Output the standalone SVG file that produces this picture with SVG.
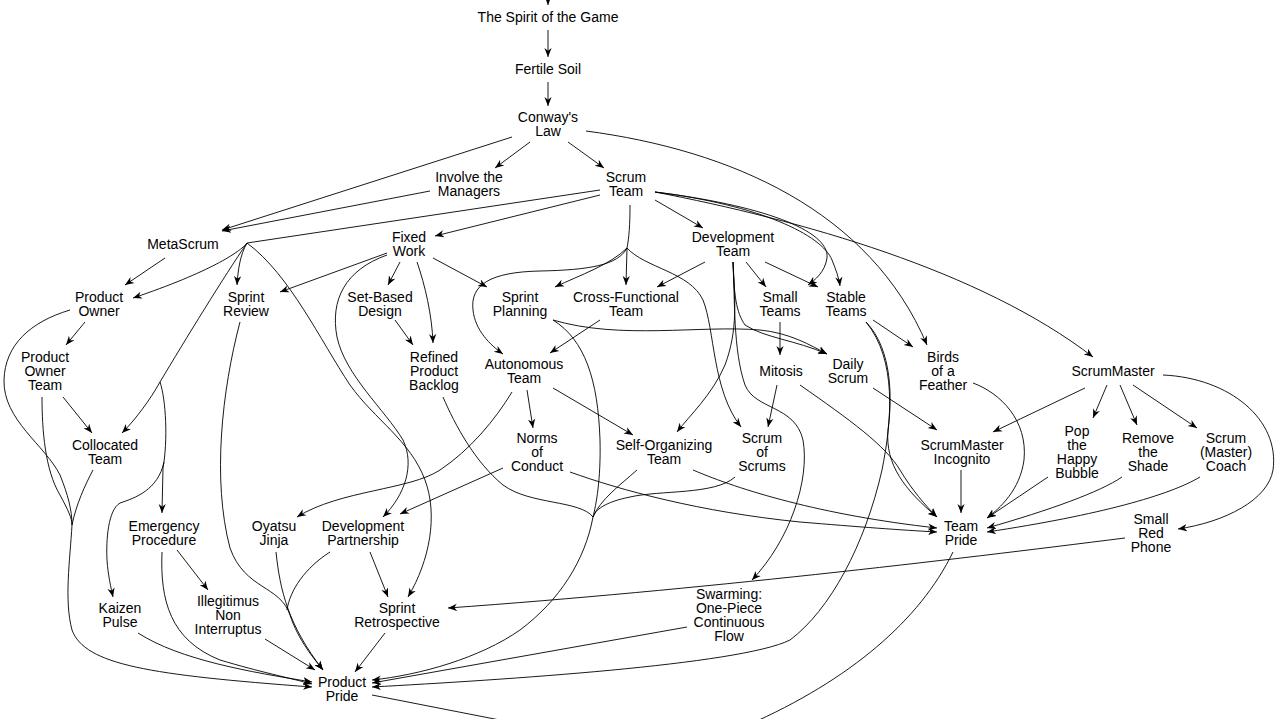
<svg xmlns="http://www.w3.org/2000/svg" width="1280" height="719" viewBox="0 0 1280 719">
<style>
text{font-family:"Liberation Sans",Arial,sans-serif;font-size:14px;fill:#000;text-anchor:middle}
#edges path{fill:none;stroke:#000;stroke-width:0.9}
#edges path.a{marker-end:url(#arr)}
</style>
<defs>
<marker id="arr" viewBox="0 0 10 10" refX="10" refY="5" markerWidth="9" markerHeight="9" markerUnits="userSpaceOnUse" orient="auto"><path d="M0,1 L10,5 L0,9 L3,5 z" fill="#000"/></marker>
</defs>
<rect width="1280" height="719" fill="#fff"/>
<g id="edges">
<path class="a" d="M548,-5 L548,5"/>
<path class="a" d="M548,30 L548,57"/>
<path class="a" d="M548,82 L548,106"/>
<path class="a" d="M530,142 L495,168"/>
<path class="a" d="M568,142 L604,168"/>
<path class="a" d="M512,137 L222,230"/>
<path class="a" d="M430,191 L222,231"/>
<path class="a" d="M586,131 C730,150 870,210 927,345"/>
<path class="a" d="M600,195 L435,236"/>
<path d="M600,190 L247,243"/>
<path class="a" d="M247,243 C240,252 210,272 133,298"/>
<path class="a" d="M247,243 C240,255 238,270 237,285"/>
<path class="a" d="M247,243 C225,275 185,340 160,382 C150,400 135,420 122,433"/>
<path class="a" d="M160,382 C166,400 168,440 163,468 L162,513"/>
<path class="a" d="M164,462 C158,490 135,498 120,503 C108,510 106,540 107,560 C108,575 111,588 113,597"/>
<path class="a" d="M247,243 C290,275 320,340 350,385 C375,420 410,440 425,480 C438,515 430,560 408,597"/>
<path class="a" d="M165,258 L125,285"/>
<path class="a" d="M655,200 L703,228"/>
<path class="a" d="M655,192 C800,220 980,270 1093,357"/>
<path class="a" d="M655,192 C760,205 830,230 827,258 C825,272 815,280 808,285"/>
<path class="a" d="M655,192 C760,205 822,235 832,260 C836,270 839,278 840,286"/>
<path d="M630,205 C630,225 629,238 627,248"/>
<path class="a" d="M627,248 C610,265 580,275 555,287"/>
<path class="a" d="M627,248 L626,285"/>
<path class="a" d="M627,248 C618,265 590,270 540,271 C490,272 470,285 473,310 C475,330 490,345 503,354"/>
<path class="a" d="M627,248 C645,268 690,272 703,300 C715,330 712,390 741,427"/>
<path class="a" d="M400,262 L388,285"/>
<path class="a" d="M417,262 C425,285 432,315 433,343"/>
<path class="a" d="M433,258 L487,287"/>
<path class="a" d="M387,253 L280,292"/>
<path class="a" d="M387,255 C345,270 330,300 337,337 C345,375 385,410 403,440 C415,465 405,495 383,517"/>
<path class="a" d="M395,320 L413,345"/>
<path d="M443,397 C455,425 475,462 503,485 C530,505 580,500 593,517"/>
<path d="M553,320 C585,340 598,380 600,440 C601,480 596,505 593,517"/>
<path d="M637,470 C620,485 600,500 593,517"/>
<path d="M735,477 C715,495 660,490 630,497 C605,502 595,510 593,517"/>
<path class="a" d="M593,517 C585,560 560,600 520,630 C480,658 420,675 372,680"/>
<path class="a" d="M687,627 L372,683"/>
<path class="a" d="M866,322 C897,360 892,420 882,470 C865,545 830,610 790,640 C740,665 500,680 372,687"/>
<path class="a" d="M866,322 C893,350 892,400 888,430 C885,465 905,490 937,517"/>
<path class="a" d="M800,385 C850,420 885,445 900,470 C912,490 925,505 937,517"/>
<path class="a" d="M705,262 L657,287"/>
<path class="a" d="M746,262 L766,287"/>
<path class="a" d="M765,262 L818,287"/>
<path class="a" d="M733,262 C735,300 733,350 745,385 C755,410 795,405 803,440 C810,480 790,540 752,580"/>
<path class="a" d="M733,262 C735,300 738,330 725,365 C712,395 690,415 677,432"/>
<path class="a" d="M733,262 C734,295 736,312 745,325 C765,338 795,340 827,354"/>
<path class="a" d="M553,320 C620,340 700,325 760,330 C790,333 810,345 827,354"/>
<path class="a" d="M600,320 L550,353"/>
<path class="a" d="M527,390 L533,428"/>
<path class="a" d="M553,388 L633,435"/>
<path class="a" d="M512,392 C495,420 470,450 440,470 C410,490 340,490 297,517"/>
<path class="a" d="M503,468 L400,514"/>
<path class="a" d="M570,472 C620,490 700,512 800,522 C860,527 900,530 937,532"/>
<path class="a" d="M693,470 C740,490 820,515 937,528"/>
<path class="a" d="M780,322 L780,355"/>
<path class="a" d="M777,385 L768,427"/>
<path class="a" d="M873,320 L913,347"/>
<path class="a" d="M873,388 L937,430"/>
<path class="a" d="M1085,388 L993,432"/>
<path class="a" d="M961,470 L961,513"/>
<path class="a" d="M973,383 C1000,393 1028,420 1024,460 C1020,490 1000,508 987,518"/>
<path class="a" d="M1107,385 L1093,418"/>
<path class="a" d="M1120,385 L1137,425"/>
<path class="a" d="M1133,385 L1197,428"/>
<path class="a" d="M1163,375 C1230,378 1280,420 1273,470 C1268,500 1225,522 1178,529"/>
<path class="a" d="M1048,477 L987,518"/>
<path class="a" d="M1122,477 C1100,492 1050,510 987,528"/>
<path class="a" d="M1200,477 C1170,495 1100,515 987,532"/>
<path class="a" d="M1125,538 C950,560 700,590 448,608"/>
<path d="M953,552 C920,620 850,680 748,725"/>
<path d="M372,695 L510,722"/>
<path class="a" d="M85,322 L66,345"/>
<path class="a" d="M63,397 L92,433"/>
<path d="M70,310 C30,322 5,345 4,380 C3,420 45,445 60,475 C68,495 72,510 72,525"/>
<path d="M42,397 C42,430 45,470 60,495 C68,510 72,518 72,525"/>
<path d="M93,470 C85,485 76,505 72,525"/>
<path class="a" d="M72,525 C70,560 64,600 72,630 C85,665 150,675 312,687"/>
<path class="a" d="M177,550 L208,590"/>
<path class="a" d="M162,552 C160,600 170,640 220,660 C260,672 290,678 312,684"/>
<path class="a" d="M138,633 C180,660 250,672 312,682"/>
<path class="a" d="M265,639 L315,670"/>
<path class="a" d="M276,552 C280,590 288,625 323,670"/>
<path d="M330,552 C305,568 290,590 287,610"/>
<path class="a" d="M240,322 C222,390 212,480 230,548 C245,590 280,585 290,615 C298,640 315,660 323,670"/>
<path class="a" d="M385,633 L355,672"/>
<path class="a" d="M370,552 L388,597"/>
</g>
<g id="spirit"><text x="548" y="22">The Spirit of the Game</text></g>
<g id="fertile"><text x="548" y="74">Fertile Soil</text></g>
<g id="conway"><text x="548" y="122">Conway's</text><text x="548" y="136">Law</text></g>
<g id="involve"><text x="469" y="182">Involve the</text><text x="469" y="196">Managers</text></g>
<g id="scrumteam"><text x="626" y="182">Scrum</text><text x="626" y="196">Team</text></g>
<g id="metascrum"><text x="183" y="249">MetaScrum</text></g>
<g id="fixedwork"><text x="409" y="242">Fixed</text><text x="409" y="256">Work</text></g>
<g id="devteam"><text x="733" y="242">Development</text><text x="733" y="256">Team</text></g>
<g id="productowner"><text x="99" y="302">Product</text><text x="99" y="316">Owner</text></g>
<g id="sprintreview"><text x="246" y="302">Sprint</text><text x="246" y="316">Review</text></g>
<g id="setbased"><text x="380" y="302">Set-Based</text><text x="380" y="316">Design</text></g>
<g id="sprintplanning"><text x="520" y="302">Sprint</text><text x="520" y="316">Planning</text></g>
<g id="crossfunctional"><text x="626" y="302">Cross-Functional</text><text x="626" y="316">Team</text></g>
<g id="smallteams"><text x="780" y="302">Small</text><text x="780" y="316">Teams</text></g>
<g id="stableteams"><text x="846" y="302">Stable</text><text x="846" y="316">Teams</text></g>
<g id="poteam"><text x="45" y="362">Product</text><text x="45" y="376">Owner</text><text x="45" y="390">Team</text></g>
<g id="refined"><text x="434" y="362">Refined</text><text x="434" y="376">Product</text><text x="434" y="390">Backlog</text></g>
<g id="autonomous"><text x="524" y="369">Autonomous</text><text x="524" y="383">Team</text></g>
<g id="mitosis"><text x="781" y="376">Mitosis</text></g>
<g id="dailyscrum"><text x="848" y="369">Daily</text><text x="848" y="383">Scrum</text></g>
<g id="birds"><text x="943" y="362">Birds</text><text x="943" y="376">of a</text><text x="943" y="390">Feather</text></g>
<g id="scrummaster"><text x="1113" y="376">ScrumMaster</text></g>
<g id="collocated"><text x="105" y="450">Collocated</text><text x="105" y="464">Team</text></g>
<g id="norms"><text x="537" y="443">Norms</text><text x="537" y="457">of</text><text x="537" y="471">Conduct</text></g>
<g id="selforg"><text x="664" y="450">Self-Organizing</text><text x="664" y="464">Team</text></g>
<g id="scrumofscrums"><text x="762" y="443">Scrum</text><text x="762" y="457">of</text><text x="762" y="471">Scrums</text></g>
<g id="smincognito"><text x="962" y="450">ScrumMaster</text><text x="962" y="464">Incognito</text></g>
<g id="pop"><text x="1077" y="436">Pop</text><text x="1077" y="450">the</text><text x="1077" y="464">Happy</text><text x="1077" y="478">Bubble</text></g>
<g id="removeshade"><text x="1148" y="443">Remove</text><text x="1148" y="457">the</text><text x="1148" y="471">Shade</text></g>
<g id="coach"><text x="1226" y="443">Scrum</text><text x="1226" y="457">(Master)</text><text x="1226" y="471">Coach</text></g>
<g id="emergency"><text x="164" y="531">Emergency</text><text x="164" y="545">Procedure</text></g>
<g id="oyatsu"><text x="274" y="531">Oyatsu</text><text x="274" y="545">Jinja</text></g>
<g id="devpartnership"><text x="363" y="531">Development</text><text x="363" y="545">Partnership</text></g>
<g id="teampride"><text x="961" y="531">Team</text><text x="961" y="545">Pride</text></g>
<g id="smallredphone"><text x="1151" y="524">Small</text><text x="1151" y="538">Red</text><text x="1151" y="552">Phone</text></g>
<g id="kaizen"><text x="120" y="613">Kaizen</text><text x="120" y="627">Pulse</text></g>
<g id="illegitimus"><text x="228" y="606">Illegitimus</text><text x="228" y="620">Non</text><text x="228" y="634">Interruptus</text></g>
<g id="sprintretro"><text x="397" y="613">Sprint</text><text x="397" y="627">Retrospective</text></g>
<g id="swarming"><text x="729" y="599">Swarming:</text><text x="729" y="613">One-Piece</text><text x="729" y="627">Continuous</text><text x="729" y="641">Flow</text></g>
<g id="productpride"><text x="342" y="687">Product</text><text x="342" y="701">Pride</text></g>
</svg>
